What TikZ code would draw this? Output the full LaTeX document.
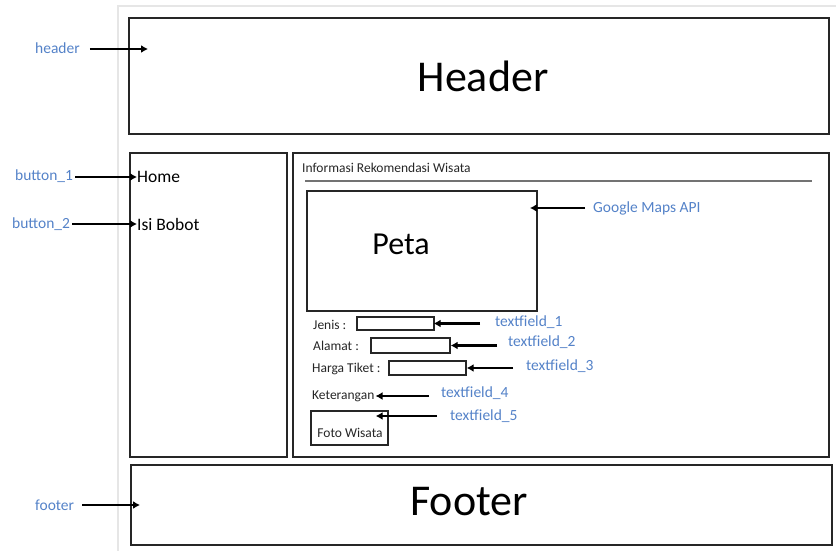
\documentclass[tikz,border=0pt]{standalone}
\usepackage{fontspec}
\setmainfont{Carlito}
\usetikzlibrary{arrows.meta}
\definecolor{lblue}{RGB}{84,130,200}
\definecolor{frame}{RGB}{230,230,230}
\tikzset{
  box/.style={draw=black!85, line width=1.8pt, inner sep=0pt},
  field/.style={draw=black!85, line width=1.4pt, inner sep=0pt},
  lbl/.style={text=lblue, font=\fontsize{15.5}{17}\selectfont, inner sep=0pt},
  small/.style={text=black!85, font=\fontsize{13.5}{15}\selectfont, inner sep=0pt},
  arr/.style={line width=2.4pt, -{Latex[length=7pt,width=8pt]}},
}
\begin{document}
\begin{tikzpicture}[x=1pt,y=-1pt]
\useasboundingbox (0,0) rectangle (836,551);
% faint page frame
\draw[frame, line width=1.2pt] (118,551) -- (118,6) -- (836,6);

% main layout blocks
\node[box, minimum width=700, minimum height=116] (header) at (479,76) {};
\node[font=\fontsize{44}{50}\selectfont] (headertxt) at (483,76) {Header};
\node[box, minimum width=157, minimum height=304] (side) at (208.5,305) {};
\node[box, minimum width=536, minimum height=304] (content) at (561,305) {};
\node[box, minimum width=701, minimum height=80] (footer) at (481.5,505) {};
\node[font=\fontsize{44}{50}\selectfont] (footertxt) at (469,502) {Footer};

% sidebar buttons
\node[anchor=west, inner sep=0pt, font=\fontsize{17.5}{19}\selectfont] (home) at (137,177) {Home};
\node[anchor=west, inner sep=0pt, font=\fontsize{17.5}{19}\selectfont] (bobot) at (137,224) {Isi Bobot};

% content panel
\node[anchor=west, small] (title) at (302,168) {Informasi Rekomendasi Wisata};
\draw[black!55, line width=1.6pt] (305,181) -- (812,181);
\node[box, minimum width=230, minimum height=120] (peta) at (422,251) {};
\node[font=\fontsize{32}{36}\selectfont] (petatxt) at (401,244) {Peta};

\node[anchor=west, small] (jenis) at (313,325) {Jenis :};
\node[field, minimum width=77, minimum height=13] (f1) at (395.5,323.5) {};
\node[anchor=west, small] (alamat) at (313,346) {Alamat :};
\node[field, minimum width=79, minimum height=15] (f2) at (410.5,345.5) {};
\node[anchor=west, small] (harga) at (312,369) {Harga Tiket :};
\node[field, minimum width=77, minimum height=14] (f3) at (427.5,368) {};
\node[anchor=west, small] (ket) at (312,396) {Keterangan};
\node[field, minimum width=77, minimum height=34] (foto) at (349.5,428) {};
\node[small] (fototxt) at (350,433) {Foto Wisata};

% blue annotation labels
\node[lbl, anchor=west] (lheader) at (35,48) {header};
\node[lbl, anchor=west] (lb1) at (15,176) {button\_1};
\node[lbl, anchor=west] (lb2) at (12,224) {button\_2};
\node[lbl, anchor=west] (lfooter) at (35,505) {footer};
\node[lbl, anchor=west] (lgm) at (593,208) {Google Maps API};
\node[lbl, anchor=west] (t1) at (495,322) {textfield\_1};
\node[lbl, anchor=west] (t2) at (508,342) {textfield\_2};
\node[lbl, anchor=west] (t3) at (526,366) {textfield\_3};
\node[lbl, anchor=west] (t4) at (441,393) {textfield\_4};
\node[lbl, anchor=west] (t5) at (450,416) {textfield\_5};

% arrow targets inside the header and footer
\coordinate (hdtip) at (148,49);
\coordinate (fttip) at (140,505);

% connectors
\draw[arr] ([xshift=10]lheader.east |- hdtip) -- (hdtip);
\draw[arr] ([xshift=8]lfooter.east |- fttip) -- (fttip);
\draw[arr] ([xshift=2]lb1.east |- home.west) -- (home.west);
\draw[arr] ([xshift=2]lb2.east |- bobot.west) -- (bobot.west);
\draw[arr] ([xshift=-8]lgm.west) -- ([xshift=-8]lgm.west -| peta.east);
\draw[arr] ([xshift=-15]t1.west |- f1.east) -- ([xshift=-1]f1.east);
\draw[arr] ([xshift=-11]t2.west |- f2.east) -- (f2.east);
\draw[arr] ([xshift=-13]t3.west |- f3.east) -- (f3.east);
\draw[arr] ([xshift=-12]t4.west |- ket.east) -- ([xshift=1]ket.east);
\draw[arr] ([xshift=-13]t5.west) -- ([xshift=-13]t5.west -| foto.east);
\end{tikzpicture}
\end{document}
